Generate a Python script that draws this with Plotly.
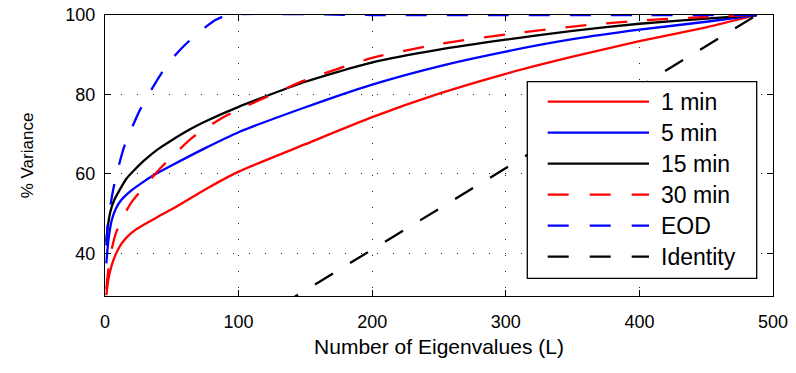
import plotly.graph_objects as go

# ---------------- data ----------------
L_1min = [1, 2, 3, 5, 8, 12, 17, 23, 30, 40, 51, 76, 100, 150, 200, 250, 300, 350, 400, 450, 488]
pct_1min = [29.5, 32.3, 34.3, 37.0, 39.8, 42.3, 44.3, 46.0, 47.4, 49.3, 51.3, 56.3, 60.6, 67.5, 74.3, 80.2, 85.2, 89.5, 93.4, 96.9, 100.0]

L_5min = [1, 2, 3, 5, 8, 12, 18, 26, 36, 48, 75, 100, 150, 200, 250, 300, 350, 400, 450, 488]
pct_5min = [37.5, 41.5, 44.5, 48.3, 51.2, 53.4, 55.4, 57.4, 59.6, 61.8, 66.5, 70.5, 76.8, 82.5, 87.1, 90.8, 93.9, 96.3, 98.3, 100.0]

L_15min = [1, 2, 4, 7, 11, 16, 22, 30, 40, 50, 64, 75, 100, 150, 200, 250, 300, 350, 400, 450, 488]
pct_15min = [43.0, 46.5, 50.5, 53.5, 56.0, 58.8, 61.0, 63.6, 66.3, 68.5, 71.3, 73.2, 76.9, 83.2, 88.1, 91.3, 93.8, 96.0, 97.8, 99.1, 100.0]

L_30min = [1, 2, 4, 8, 14, 20, 29, 41, 50, 64, 75, 90, 100, 150, 200, 250, 300, 350, 400, 450, 488]
pct_30min = [31.0, 34.5, 39.5, 45.0, 49.5, 53.0, 56.6, 61.3, 64.3, 68.8, 71.5, 74.5, 76.2, 83.6, 89.2, 92.7, 95.1, 97.1, 98.6, 99.5, 100.0]

L_eod = [1, 2, 5, 8, 14, 20, 26, 34, 42, 49, 57, 64, 75, 83, 92, 200, 300, 400, 488]
pct_eod = [42.0, 47.0, 54.0, 59.0, 66.5, 71.5, 76.0, 80.8, 85.2, 88.5, 91.5, 93.8, 96.9, 98.8, 100.0, 100.0, 100.0, 100.0, 100.0]

L_identity = [0, 488]
pct_identity = [0.0, 100.0]

x_ticks = [0, 100, 200, 300, 400, 500]
y_ticks = [40, 60, 80, 100]

RED, BLUE, BLACK = "#FF0000", "#0000FF", "#000000"
DASH = "21px,20px"
series = [
    ("1 min", L_1min, pct_1min, RED, "solid", "spline"),
    ("5 min", L_5min, pct_5min, BLUE, "solid", "spline"),
    ("15 min", L_15min, pct_15min, BLACK, "solid", "spline"),
    ("30 min", L_30min, pct_30min, RED, DASH, "spline"),
    ("EOD", L_eod, pct_eod, BLUE, DASH, "spline"),
    ("Identity", L_identity, pct_identity, BLACK, DASH, "linear"),
]

# ---------------- layout geometry ----------------
W, H = 796, 373
PL, PR, PT, PB = 105, 773, 15, 296
FONT = "Liberation Sans, Arial, Helvetica, sans-serif"


def fx(px):
    return (px - PL) / (PR - PL)


def fy(py):
    return (PB - py) / (PB - PT)


fig = go.Figure()
for name, xs, ys, color, dash, shape in series:
    line = dict(color=color, width=2.3, dash=dash, shape=shape)
    if shape == "spline":
        line["smoothing"] = 0.6
    fig.add_trace(go.Scatter(x=xs, y=ys, mode="lines", name=name, line=line,
                             showlegend=False, hoverinfo="skip"))

axis_common = dict(
    showline=True, linecolor="black", linewidth=1.3, mirror="allticks",
    ticks="inside", ticklen=6, tickwidth=1, tickcolor="black",
    showgrid=True, gridcolor="#222", gridwidth=1, griddash="1px,15px",
    zeroline=False, tickfont=dict(family=FONT, size=18, color="black"),
    layer="below traces",
)

fig.update_xaxes(range=[0, 500], tickvals=x_ticks, ticklabelstandoff=9,
                 title=dict(text="Number of Eigenvalues (L)", standoff=8,
                            font=dict(family=FONT, size=21, color="black")),
                 **axis_common)
fig.update_yaxes(range=[29.3, 100], tickvals=y_ticks, ticklabelstandoff=5,
                 title=dict(text="% Variance", standoff=27,
                            font=dict(family=FONT, size=17, color="black")),
                 **axis_common)

# ---------------- legend (drawn as box + sample lines + text) ----------------
shapes = [dict(type="rect", xref="paper", yref="paper",
               x0=fx(527.3), x1=fx(756.7), y0=fy(278.3), y1=fy(81.7),
               line=dict(color="black", width=1.3), fillcolor="white", layer="above")]
annotations = []
row0, row_step = 101.7, 31.0
for i, (name, xs, ys, color, dash, shape) in enumerate(series):
    py = row0 + i * row_step
    shapes.append(dict(type="line", xref="paper", yref="paper",
                       x0=fx(547.7), x1=fx(649), y0=fy(py), y1=fy(py),
                       line=dict(color=color, width=2.3,
                                 dash="21px,21px" if dash != "solid" else "solid"),
                       layer="above"))
    annotations.append(dict(xref="paper", yref="paper", x=fx(659), y=fy(py),
                            xanchor="left", yanchor="middle", showarrow=False,
                            text=name, font=dict(family=FONT, size=23, color="black")))

fig.update_layout(
    width=W, height=H,
    margin=dict(l=PL, r=W - PR, t=PT, b=H - PB, autoexpand=False),
    paper_bgcolor="white", plot_bgcolor="white",
    shapes=shapes, annotations=annotations,
    showlegend=False,
)

fig.write_html("out.html", config={"displayModeBar": False},
               post_script="document.body.style.margin='0';"
                           "document.body.style.overflow='hidden';")
